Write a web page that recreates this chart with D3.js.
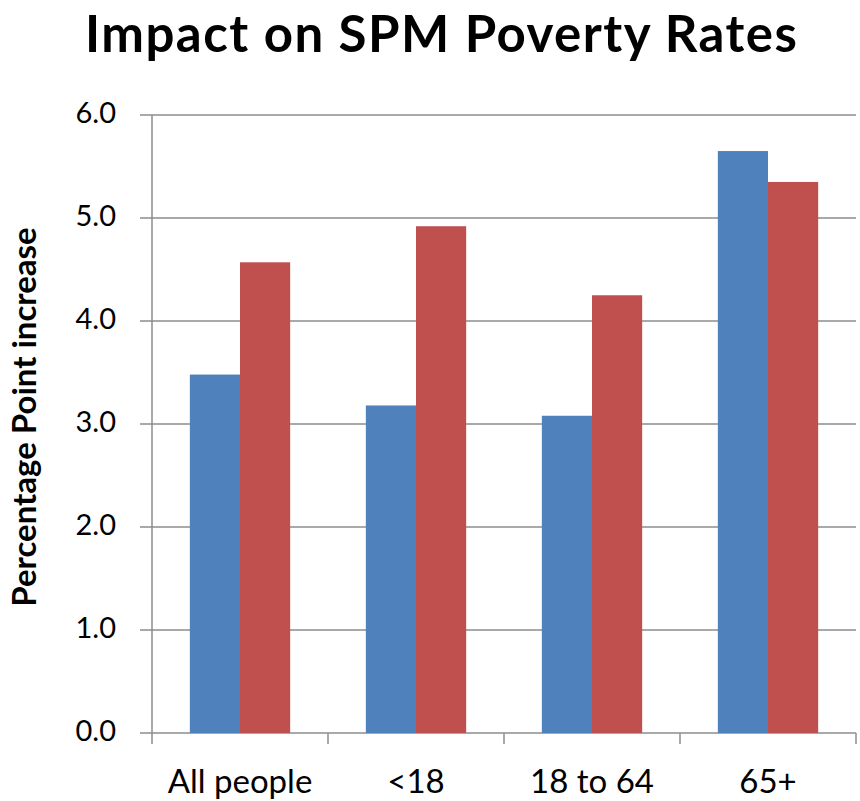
<!DOCTYPE html>
<html><head><meta charset="utf-8">
<script src="https://cdn.jsdelivr.net/npm/d3@7"></script>
<style>body{margin:0;background:#fff}</style>
</head><body>
<svg id="c" width="860" height="801"></svg>
<script>
const categories = ["All people", "<18", "18 to 64", "65+"];
const seriesA = [3.48, 3.18, 3.08, 5.65];
const seriesB = [4.57, 4.92, 4.25, 5.35];
const yTicks = [0, 1, 2, 3, 4, 5, 6];
const title = "Impact on SPM Poverty Rates";
const yTitle = "Percentage Point increase";
const colors = ["#4F81BD", "#C0504D"];

(function () {
const svg = d3.select("#c");
const font = "Lato, 'Open Sans', sans-serif";
const pLeft = 152, pRight = 856, pTop = 115, pBottom = 733;

const x = d3.scaleBand().domain(categories).range([pLeft, pRight]).paddingInner(0.43).paddingOuter(0.215);
const y = d3.scaleLinear().domain([0, 6]).range([pBottom, pTop]);

svg.append("g").selectAll("line").data(yTicks).join("line")
  .attr("x1", pLeft - 12).attr("x2", pRight)
  .attr("y1", d => y(d)).attr("y2", d => y(d))
  .attr("stroke", "#8c8c8c").attr("stroke-width", 1.5);

const series = [seriesA, seriesB];
const bw = x.bandwidth() / 2;
series.forEach((s, i) => {
  svg.append("g").selectAll("rect").data(categories).join("rect")
    .attr("x", d => x(d) + i * bw)
    .attr("y", (d, j) => y(s[j]))
    .attr("width", bw)
    .attr("height", (d, j) => y(0) - y(s[j]))
    .attr("fill", colors[i]);
});

svg.append("line").attr("x1", pLeft).attr("x2", pLeft).attr("y1", pTop).attr("y2", pBottom)
  .attr("stroke", "#8c8c8c").attr("stroke-width", 1.5);

const bounds = categories.map((c, i) => pLeft + i * (pRight - pLeft) / categories.length).concat([pRight]);
svg.append("g").selectAll("line").data(bounds).join("line")
  .attr("x1", d => d).attr("x2", d => d).attr("y1", pBottom).attr("y2", pBottom + 11)
  .attr("stroke", "#8c8c8c").attr("stroke-width", 1.5);

svg.append("g").selectAll("text").data(yTicks).join("text")
  .attr("x", 116).attr("y", d => y(d) + 8)
  .attr("text-anchor", "end").attr("font-family", font).attr("font-size", 29)
  .text(d => d.toFixed(1));

svg.append("g").selectAll("text").data(categories).join("text")
  .attr("x", d => x(d) + x.bandwidth() / 2).attr("y", 793)
  .attr("text-anchor", "middle").attr("font-family", font).attr("font-size", 33)
  .text(d => d);

svg.append("text").attr("x", 441).attr("y", 52).attr("text-anchor", "middle")
  .attr("font-family", font).attr("font-weight", "bold").attr("font-size", 51)
  .attr("textLength", 712).attr("lengthAdjust", "spacing")
  .text(title);

svg.append("text").attr("transform", "translate(36,417) rotate(-90)")
  .attr("text-anchor", "middle").attr("font-family", font).attr("font-weight", "bold").attr("font-size", 33)
  .text(yTitle);
})();
</script>
</body></html>
